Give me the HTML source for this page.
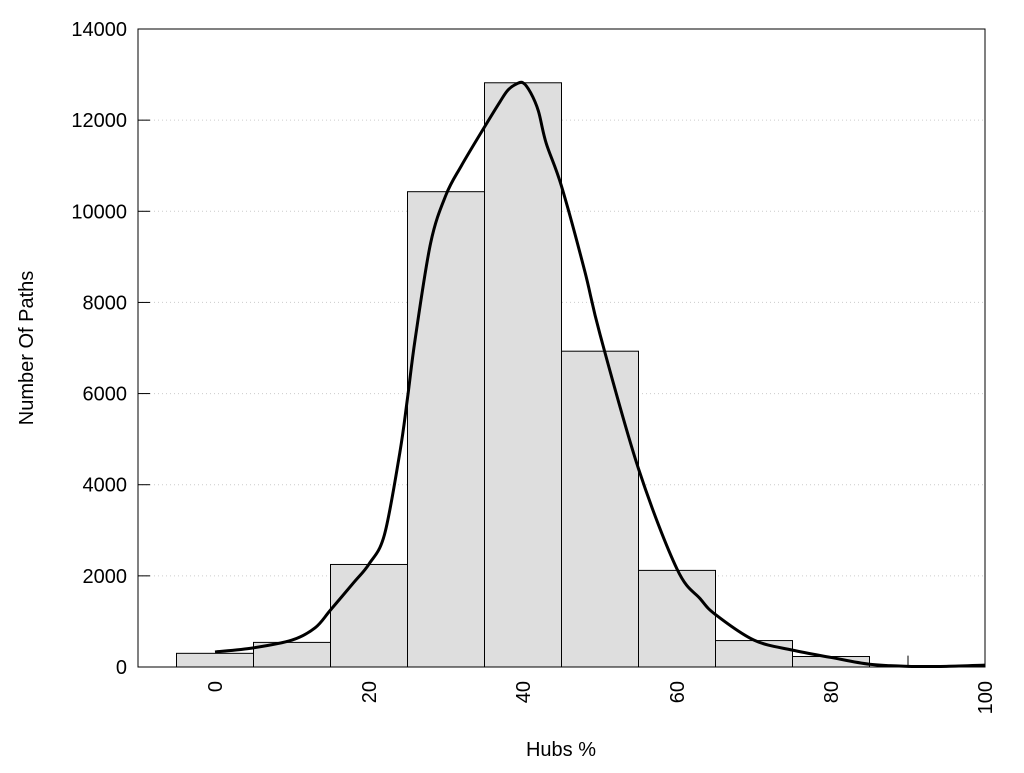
<!DOCTYPE html>
<html><head><meta charset="utf-8"><style>
body{margin:0;background:#fff;}
text{font-family:"Liberation Sans",Arial,sans-serif;font-size:20px;fill:#000;}
</style></head><body>
<svg id="chart" width="1024" height="768" xmlns="http://www.w3.org/2000/svg">
<g id="grid"></g>
<g id="bars"></g>
<g id="curve"></g>
<rect x="138" y="29" width="847" height="638" fill="none" stroke="#000" stroke-width="1"/>
<g id="yticks"></g>
<g id="xticks"></g>
<text transform="translate(33,348) rotate(-90)" text-anchor="middle">Number Of Paths</text>
<text x="561" y="756" text-anchor="middle">Hubs %</text>
</svg>
<script>
const binCenters=[0,10,20,30,40,50,60,70,80];
const binCounts=[300,540,2250,10430,12820,6930,2120,580,230];
const curveX=[0,5,10,13,15,18,20,22,24,25,26,28,30,32,35,37,38,39,40,41,42,43,45,48,50,55,60,63,65,70,75,80,85,90,95,100];
const curveY=[330,420,590,860,1250,1850,2260,2900,4700,5900,7200,9300,10360,11000,11850,12400,12650,12780,12820,12600,12200,11500,10550,8700,7300,4350,2150,1500,1150,590,370,210,60,15,15,40];
const yTicks=[0,2000,4000,6000,8000,10000,12000,14000];
const xTicks=[0,20,40,60,80,100];
const L=138,R=985,T=29,B=667,xmin=-10,xmax=100,ymax=14000;
const sx=v=>L+(v-xmin)/(xmax-xmin)*(R-L);
const sy=v=>B-v/ymax*(B-T);
const NS="http://www.w3.org/2000/svg";
function mk(t,a,p){const e=document.createElementNS(NS,t);for(const k in a)e.setAttribute(k,a[k]);p.appendChild(e);return e;}
const grid=document.getElementById('grid'),yt=document.getElementById('yticks'),xt=document.getElementById('xticks');
yTicks.forEach(v=>{
 if(v>0&&v<ymax){const g=mk('line',{x1:L,x2:R,y1:sy(v),y2:sy(v),stroke:'#ccc','stroke-dasharray':'1,3'},grid);
 
 }
 const tk=mk('line',{x1:L,x2:L+12,y1:sy(v),y2:sy(v),stroke:'#000'},yt);
 
 
 const t=mk('text',{x:L-11,y:sy(v)+7,'text-anchor':'end'},yt);t.textContent=v;
 
 
});
xTicks.forEach(v=>{
 const t=mk('text',{transform:`translate(${sx(v)+7},${B+14}) rotate(-90)`,'text-anchor':'end'},xt);t.textContent=v;
 
 
});
const bars=document.getElementById('bars');
binCenters.forEach((c,i)=>{
 const r=mk('rect',{x:sx(c-5),y:sy(binCounts[i]),width:sx(c+5)-sx(c-5),height:B-sy(binCounts[i]),fill:'#dedede',stroke:'#000','stroke-width':1},bars);
 
 
});
const m=mk('line',{x1:sx(90),x2:sx(90),y1:sy(250),y2:B,stroke:'#000'},bars);


// Catmull-Rom smooth path
const pts=curveX.map((x,i)=>[sx(x),sy(curveY[i])]);
let d=`M${pts[0][0]},${pts[0][1]}`;
for(let i=0;i<pts.length-1;i++){
 const p0=pts[Math.max(0,i-1)],p1=pts[i],p2=pts[i+1],p3=pts[Math.min(pts.length-1,i+2)];
 d+=` C${p1[0]+(p2[0]-p0[0])/6},${p1[1]+(p2[1]-p0[1])/6} ${p2[0]-(p3[0]-p1[0])/6},${p2[1]-(p3[1]-p1[1])/6} ${p2[0]},${p2[1]}`;
}
const c=mk('path',{d:d,fill:'none',stroke:'#000','stroke-width':3},document.getElementById('curve'));


</script>
</body></html>
